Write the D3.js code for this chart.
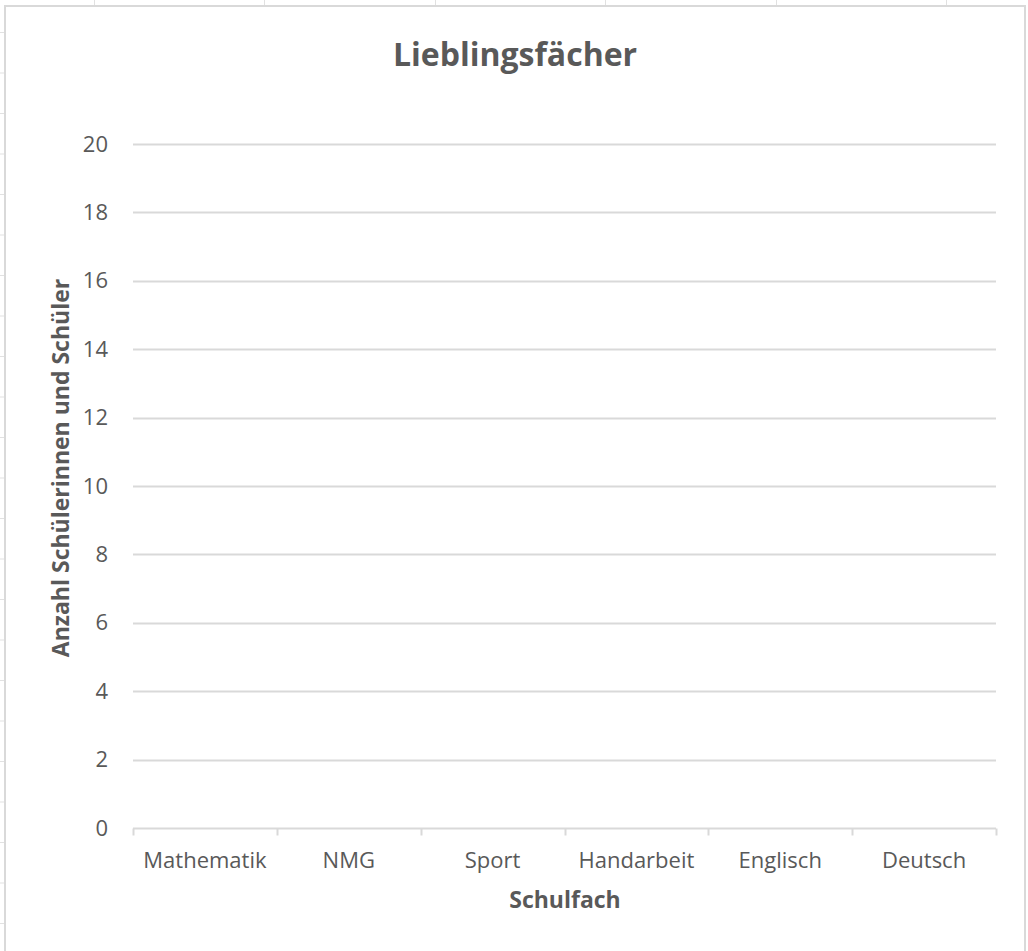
<!DOCTYPE html>
<html>
<head>
<meta charset="utf-8">
<script src="https://cdn.jsdelivr.net/npm/d3@7"></script>
<style>
  html, body { margin: 0; padding: 0; background: #ffffff; }
  svg { display: block; }
</style>
</head>
<body>
<svg id="chart" width="1028" height="951"></svg>
<script>
// Chart content
const title = "Lieblingsfächer";
const xTitle = "Schulfach";
const yTitle = "Anzahl Schülerinnen und Schüler";
const categories = ["Mathematik", "NMG", "Sport", "Handarbeit", "Englisch", "Deutsch"];
const values = [0, 0, 0, 0, 0, 0];   // no entries recorded yet
const yTicks = [0, 2, 4, 6, 8, 10, 12, 14, 16, 18, 20];

const svg = d3.select("#chart");
const font = "'Open Sans', 'Noto Sans', sans-serif";
const textColor = "#595959";
const gridColor = "#d9d9d9";

// Spreadsheet cells behind the chart object
const sheet = svg.append("g");
const colEdges = [94.5, 264.5, 435.5, 605.5, 776.5, 946.5];
sheet.selectAll("line.col").data(colEdges).enter().append("line")
  .attr("x1", d => d).attr("x2", d => d).attr("y1", 0).attr("y2", 6)
  .attr("stroke", "#e1e1e1").attr("stroke-width", 1);
const rowEdges = d3.range(32.5, 951, 40.5);
sheet.selectAll("line.row").data(rowEdges).enter().append("line")
  .attr("x1", 0).attr("x2", 4).attr("y1", d => d).attr("y2", d => d)
  .attr("stroke", "#e1e1e1").attr("stroke-width", 1);

// Chart area frame
svg.append("rect")
  .attr("x", 5).attr("y", 6).attr("width", 1020).attr("height", 960)
  .attr("fill", "#ffffff").attr("stroke", gridColor).attr("stroke-width", 2);

// Plot area
const plot = { left: 133, right: 996, top: 144, bottom: 828 };

const x = d3.scaleBand().domain(categories).range([plot.left, plot.right]).padding(0);
const y = d3.scaleLinear().domain([0, 20]).range([plot.bottom, plot.top]);

// Horizontal gridlines
svg.append("g")
  .selectAll("line").data(yTicks.filter(t => t > 0)).enter().append("line")
  .attr("x1", plot.left).attr("x2", plot.right)
  .attr("y1", d => Math.round(y(d)) + 0.5).attr("y2", d => Math.round(y(d)) + 0.5)
  .attr("stroke", gridColor).attr("stroke-width", 2);

// Bars (all values are zero)
svg.append("g")
  .selectAll("rect").data(categories).enter().append("rect")
  .attr("x", (d) => x(d) + x.bandwidth() * 0.2)
  .attr("width", x.bandwidth() * 0.6)
  .attr("y", (d, i) => y(values[i]))
  .attr("height", (d, i) => y(0) - y(values[i]))
  .attr("fill", "#4472c4");

// Y axis labels
const yAxis = d3.axisLeft(y).tickValues(yTicks).tickSize(0).tickPadding(25);
const gy = svg.append("g").attr("transform", `translate(${plot.left},0)`).call(yAxis);
gy.select(".domain").remove();
gy.selectAll("text")
  .attr("font-family", font).attr("font-size", 22).attr("fill", textColor);

// X axis with ticks at category boundaries
const baseY = Math.round(y(0)) + 0.5;
svg.append("line")
  .attr("x1", plot.left).attr("x2", plot.right)
  .attr("y1", baseY).attr("y2", baseY)
  .attr("stroke", gridColor).attr("stroke-width", 2);
const boundaries = categories.map(c => x(c)).concat([x(categories[categories.length - 1]) + x.bandwidth()]);
svg.append("g")
  .selectAll("line").data(boundaries).enter().append("line")
  .attr("x1", d => Math.round(d) + 0.5).attr("x2", d => Math.round(d) + 0.5)
  .attr("y1", baseY).attr("y2", baseY + 7)
  .attr("stroke", gridColor).attr("stroke-width", 2);

svg.append("g")
  .selectAll("text").data(categories).enter().append("text")
  .attr("x", d => x(d) + x.bandwidth() / 2)
  .attr("y", 868)
  .attr("text-anchor", "middle")
  .attr("font-family", font).attr("font-size", 22).attr("fill", textColor)
  .text(d => d);

// Titles
svg.append("text")
  .attr("x", 515).attr("y", 66)
  .attr("text-anchor", "middle")
  .attr("font-family", font).attr("font-size", 32).attr("font-weight", "bold")
  .attr("fill", textColor)
  .text(title);

svg.append("text")
  .attr("x", 565).attr("y", 908)
  .attr("text-anchor", "middle")
  .attr("font-family", font).attr("font-size", 23).attr("font-weight", "bold")
  .attr("fill", textColor)
  .text(xTitle);

svg.append("text")
  .attr("transform", `translate(69,468) rotate(-90)`)
  .attr("text-anchor", "middle")
  .attr("font-family", font).attr("font-size", 23).attr("font-weight", "bold")
  .attr("fill", textColor)
  .text(yTitle);
</script>
</body>
</html>
